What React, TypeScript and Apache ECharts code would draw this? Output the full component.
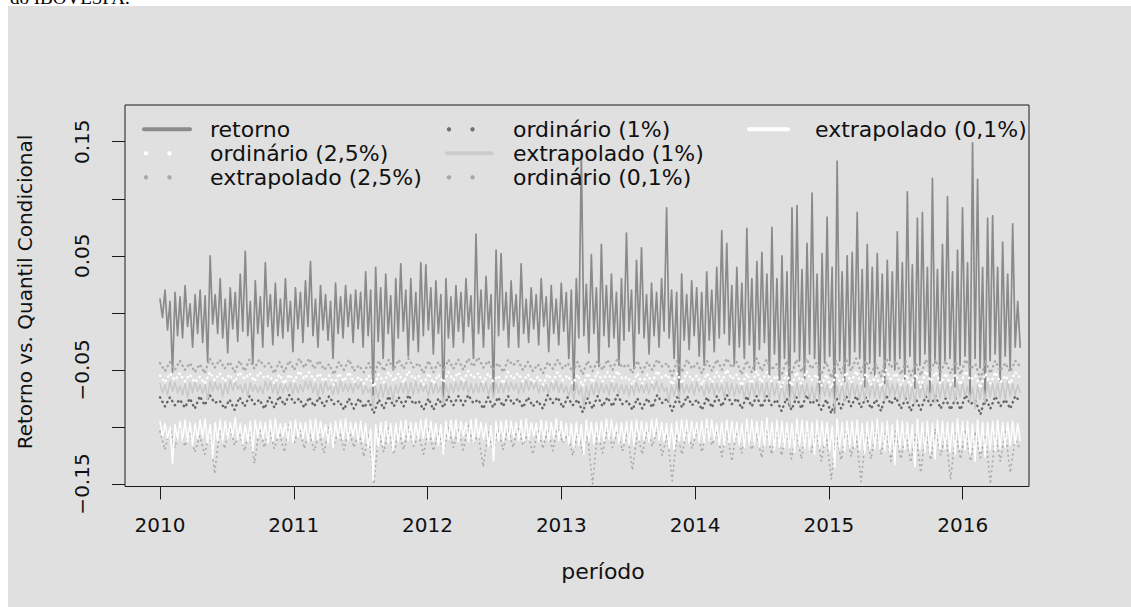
import React, { useEffect, useRef } from "react";
import * as echarts from "echarts";

// ---- data ----
const X_START = 2010.0;
const X_END = 2016.43;
const X_TICKS = [2010, 2011, 2012, 2013, 2014, 2015, 2016];
const Y_TICKS = [-0.15, -0.1, -0.05, 0, 0.05, 0.1, 0.15];
const Y_LABEL_VALUES = [-0.15, -0.05, 0.05, 0.15];
const Y_LABELS = ["\u22120.15", "\u22120.05", "0.05", "0.15"];
const SERIES_NAMES = [
  "retorno",
  "ordinário (2,5%)",
  "extrapolado (2,5%)",
  "ordinário (1%)",
  "extrapolado (1%)",
  "ordinário (0,1%)",
  "extrapolado (0,1%)",
];
const X_TITLE = "período";
const Y_TITLE = "Retorno vs. Quantil Condicional";
const TOP_TEXT = "do IBOVESPA.";

const RETORNO = [
  0.012, -0.004, 0.020, -0.015, 0.010, -0.052, 0.018, -0.020, 0.014, -0.022,
  0.024, -0.012, 0.008, -0.030, 0.016, -0.018, 0.020, -0.026, 0.015, -0.043,
  0.050, -0.010, 0.016, -0.018, 0.030, -0.022, 0.012, -0.035, 0.022, -0.014,
  0.018, -0.025, 0.034, -0.016, 0.054, -0.020, 0.010, -0.045, 0.028, -0.018,
  0.014, -0.030, 0.044, -0.012, 0.016, -0.028, 0.026, -0.020, 0.012, -0.022,
  0.030, -0.016, 0.010, -0.034, 0.022, -0.014, 0.018, -0.026, 0.028, -0.012,
  0.045, -0.020, 0.012, -0.030, 0.024, -0.015, 0.016, -0.024, 0.010, -0.040,
  0.026, -0.018, 0.014, -0.022, 0.024, -0.012, 0.016, -0.026, 0.020, -0.014,
  0.018, -0.030, 0.036, -0.020, 0.020, -0.072, 0.040, -0.025, 0.022, -0.040,
  0.034, -0.018, 0.015, -0.050, 0.030, -0.022, 0.043, -0.016, 0.020, -0.038,
  0.030, -0.024, 0.018, -0.034, 0.044, -0.020, 0.042, -0.015, 0.022, -0.036,
  0.028, -0.018, 0.016, -0.078, 0.030, -0.022, 0.014, -0.030, 0.024, -0.016,
  0.018, -0.026, 0.030, -0.012, 0.015, -0.040, 0.069, -0.018, 0.020, -0.030,
  0.032, -0.014, 0.016, -0.072, 0.055, -0.020, 0.052, -0.015, 0.018, -0.030,
  0.028, -0.012, 0.016, -0.030, 0.043, -0.018, 0.012, -0.026, 0.022, -0.014,
  0.016, -0.028, 0.030, -0.012, 0.014, -0.034, 0.024, -0.018, 0.012, -0.028,
  0.026, -0.016, 0.018, -0.040, 0.020, -0.068, 0.030, -0.022, 0.138, -0.020,
  0.025, -0.035, 0.051, -0.018, 0.022, -0.047, 0.060, -0.020, 0.024, -0.030,
  0.034, -0.022, 0.018, -0.046, 0.030, -0.024, 0.070, -0.016, 0.020, -0.049,
  0.046, -0.018, 0.057, -0.022, 0.016, -0.036, 0.026, -0.020, 0.018, -0.030,
  0.030, -0.016, 0.092, -0.022, 0.020, -0.040, 0.018, -0.075, 0.034, -0.024,
  0.016, -0.032, 0.028, -0.020, 0.022, -0.038, 0.018, -0.046, 0.036, -0.024,
  0.020, -0.034, 0.040, -0.022, 0.072, -0.018, 0.061, -0.028, 0.024, -0.045,
  0.040, -0.030, 0.026, -0.040, 0.074, -0.028, 0.030, -0.050, 0.045, -0.032,
  0.053, -0.026, 0.034, -0.055, 0.075, -0.036, 0.030, -0.060, 0.050, -0.040,
  0.036, -0.082, 0.092, -0.034, 0.094, -0.042, 0.038, -0.058, 0.061, -0.036,
  0.105, -0.040, 0.034, -0.075, 0.052, -0.044, 0.084, -0.038, 0.040, -0.088,
  0.133, -0.042, 0.036, -0.060, 0.050, -0.046, 0.053, -0.034, 0.088, -0.040,
  0.038, -0.065, 0.060, -0.044, 0.040, -0.055, 0.052, -0.038, 0.034, -0.062,
  0.046, -0.042, 0.036, -0.050, 0.071, -0.040, 0.044, -0.058, 0.106, -0.038,
  0.042, -0.066, 0.083, -0.046, 0.088, -0.036, 0.040, -0.070, 0.118, -0.044,
  0.038, -0.060, 0.060, -0.042, 0.102, -0.040, 0.036, -0.065, 0.055, -0.046,
  0.092, -0.038, 0.044, -0.072, 0.149, -0.040, 0.117, -0.048, 0.040, -0.080,
  0.083, -0.042, 0.085, -0.036, 0.040, -0.060, 0.062, -0.038, 0.034, -0.050,
  0.078, -0.030, 0.010, -0.030,
];

const EXTRAP_1 = [
  -0.062, -0.070, -0.063, -0.072, -0.060, -0.069, -0.061, -0.070, -0.064, -0.072,
  -0.062, -0.074, -0.061, -0.070, -0.060, -0.069, -0.063, -0.071, -0.063, -0.076,
  -0.060, -0.069, -0.061, -0.068, -0.062, -0.073, -0.062, -0.071, -0.059, -0.068,
  -0.060, -0.067, -0.063, -0.070, -0.062, -0.073, -0.061, -0.069, -0.063, -0.070,
  -0.064, -0.071, -0.060, -0.068, -0.060, -0.070, -0.061, -0.072, -0.062, -0.070,
  -0.063, -0.069, -0.061, -0.071, -0.062, -0.070, -0.063, -0.069, -0.060, -0.067,
  -0.060, -0.070, -0.062, -0.073, -0.062, -0.071, -0.060, -0.068, -0.064, -0.072,
  -0.061, -0.071, -0.060, -0.069, -0.062, -0.069, -0.062, -0.070, -0.061, -0.067,
  -0.061, -0.071, -0.064, -0.070, -0.066, -0.084, -0.064, -0.075, -0.063, -0.074,
  -0.062, -0.072, -0.064, -0.077, -0.063, -0.071, -0.062, -0.070, -0.061, -0.072,
  -0.061, -0.072, -0.060, -0.070, -0.062, -0.069, -0.063, -0.073, -0.061, -0.071,
  -0.062, -0.070, -0.064, -0.080, -0.063, -0.071, -0.062, -0.070, -0.061, -0.069,
  -0.060, -0.068, -0.060, -0.071, -0.062, -0.071, -0.062, -0.070, -0.061, -0.069,
  -0.061, -0.072, -0.063, -0.075, -0.062, -0.070, -0.061, -0.070, -0.060, -0.069,
  -0.061, -0.068, -0.062, -0.071, -0.062, -0.070, -0.059, -0.068, -0.060, -0.067,
  -0.061, -0.070, -0.062, -0.069, -0.063, -0.071, -0.061, -0.068, -0.060, -0.070,
  -0.062, -0.070, -0.064, -0.073, -0.064, -0.076, -0.062, -0.072, -0.065, -0.082,
  -0.064, -0.074, -0.063, -0.072, -0.061, -0.071, -0.062, -0.070, -0.063, -0.072,
  -0.061, -0.069, -0.062, -0.071, -0.063, -0.071, -0.063, -0.073, -0.062, -0.072,
  -0.061, -0.070, -0.063, -0.070, -0.062, -0.071, -0.061, -0.068, -0.060, -0.070,
  -0.062, -0.069, -0.065, -0.078, -0.063, -0.073, -0.062, -0.074, -0.061, -0.071,
  -0.063, -0.070, -0.062, -0.072, -0.061, -0.069, -0.064, -0.073, -0.062, -0.071,
  -0.061, -0.072, -0.062, -0.070, -0.063, -0.074, -0.061, -0.072, -0.062, -0.073,
  -0.063, -0.071, -0.063, -0.075, -0.062, -0.074, -0.061, -0.073, -0.060, -0.072,
  -0.062, -0.074, -0.061, -0.075, -0.060, -0.073, -0.062, -0.076, -0.062, -0.075,
  -0.063, -0.080, -0.063, -0.076, -0.061, -0.074, -0.061, -0.074, -0.062, -0.076,
  -0.064, -0.077, -0.062, -0.078, -0.060, -0.073, -0.063, -0.074, -0.064, -0.082,
  -0.064, -0.076, -0.062, -0.078, -0.061, -0.075, -0.061, -0.073, -0.063, -0.076,
  -0.062, -0.077, -0.060, -0.074, -0.061, -0.074, -0.062, -0.075, -0.063, -0.076,
  -0.059, -0.073, -0.062, -0.073, -0.062, -0.076, -0.063, -0.077, -0.063, -0.078,
  -0.064, -0.080, -0.061, -0.074, -0.062, -0.075, -0.064, -0.077, -0.063, -0.079,
  -0.062, -0.075, -0.061, -0.074, -0.061, -0.076, -0.062, -0.078, -0.062, -0.074,
  -0.061, -0.073, -0.064, -0.078, -0.065, -0.084, -0.063, -0.076, -0.062, -0.078,
  -0.061, -0.074, -0.062, -0.074, -0.062, -0.075, -0.061, -0.076, -0.060, -0.073,
  -0.062, -0.072, -0.063, -0.070,
];

const EXTRAP_01 = [
  -0.095, -0.108, -0.097, -0.110, -0.100, -0.132, -0.098, -0.111, -0.095, -0.112,
  -0.094, -0.113, -0.096, -0.116, -0.097, -0.110, -0.094, -0.109, -0.093, -0.114,
  -0.098, -0.127, -0.096, -0.112, -0.094, -0.113, -0.095, -0.110, -0.096, -0.108,
  -0.092, -0.111, -0.097, -0.115, -0.098, -0.113, -0.095, -0.121, -0.094, -0.109,
  -0.095, -0.110, -0.096, -0.114, -0.094, -0.112, -0.093, -0.110, -0.097, -0.108,
  -0.097, -0.112, -0.095, -0.114, -0.094, -0.109, -0.096, -0.110, -0.096, -0.113,
  -0.094, -0.112, -0.093, -0.111, -0.095, -0.109, -0.098, -0.114, -0.097, -0.118,
  -0.095, -0.110, -0.094, -0.111, -0.093, -0.112, -0.096, -0.108, -0.096, -0.113,
  -0.095, -0.113, -0.097, -0.118, -0.102, -0.147, -0.098, -0.117, -0.096, -0.116,
  -0.095, -0.114, -0.097, -0.121, -0.097, -0.113, -0.095, -0.112, -0.094, -0.112,
  -0.096, -0.114, -0.096, -0.111, -0.094, -0.110, -0.093, -0.112, -0.095, -0.112,
  -0.097, -0.116, -0.098, -0.124, -0.095, -0.111, -0.094, -0.110, -0.094, -0.113,
  -0.095, -0.108, -0.096, -0.113, -0.094, -0.114, -0.093, -0.110, -0.096, -0.111,
  -0.097, -0.117, -0.099, -0.130, -0.095, -0.112, -0.095, -0.112, -0.094, -0.111,
  -0.095, -0.109, -0.096, -0.112, -0.094, -0.113, -0.093, -0.111, -0.096, -0.108,
  -0.097, -0.113, -0.094, -0.111, -0.095, -0.112, -0.096, -0.110, -0.093, -0.112,
  -0.095, -0.112, -0.097, -0.115, -0.097, -0.118, -0.096, -0.116, -0.098, -0.124,
  -0.094, -0.112, -0.096, -0.115, -0.096, -0.113, -0.095, -0.112, -0.093, -0.111,
  -0.094, -0.110, -0.097, -0.114, -0.096, -0.114, -0.095, -0.115, -0.095, -0.116,
  -0.094, -0.112, -0.095, -0.111, -0.096, -0.113, -0.094, -0.109, -0.093, -0.112,
  -0.096, -0.113, -0.097, -0.118, -0.097, -0.120, -0.095, -0.113, -0.094, -0.112,
  -0.094, -0.114, -0.095, -0.110, -0.096, -0.113, -0.095, -0.114, -0.093, -0.112,
  -0.094, -0.111, -0.097, -0.115, -0.096, -0.116, -0.094, -0.114, -0.095, -0.113,
  -0.096, -0.116, -0.097, -0.118, -0.093, -0.115, -0.094, -0.115, -0.095, -0.117,
  -0.095, -0.117, -0.092, -0.116, -0.096, -0.120, -0.094, -0.118, -0.095, -0.118,
  -0.096, -0.119, -0.097, -0.122, -0.093, -0.117, -0.094, -0.119, -0.095, -0.120,
  -0.096, -0.124, -0.094, -0.118, -0.095, -0.117, -0.096, -0.121, -0.099, -0.135,
  -0.093, -0.119, -0.096, -0.121, -0.095, -0.118, -0.095, -0.118, -0.094, -0.120,
  -0.097, -0.123, -0.096, -0.119, -0.095, -0.119, -0.093, -0.120, -0.096, -0.121,
  -0.095, -0.122, -0.098, -0.133, -0.094, -0.119, -0.095, -0.120, -0.096, -0.121,
  -0.098, -0.135, -0.093, -0.120, -0.096, -0.122, -0.095, -0.123, -0.097, -0.128,
  -0.094, -0.120, -0.095, -0.119, -0.096, -0.122, -0.096, -0.124, -0.093, -0.119,
  -0.095, -0.120, -0.095, -0.124, -0.097, -0.130, -0.094, -0.121, -0.096, -0.126,
  -0.096, -0.120, -0.095, -0.121, -0.094, -0.119, -0.096, -0.118, -0.096, -0.116,
  -0.095, -0.115, -0.097, -0.112,
];

const EXTRAP_25 = [
  -0.044, -0.051, -0.043, -0.050, -0.042, -0.050, -0.044, -0.052, -0.045, -0.053,
  -0.040, -0.048, -0.041, -0.049, -0.043, -0.052, -0.042, -0.051, -0.041, -0.049,
  -0.041, -0.047, -0.044, -0.053, -0.043, -0.052, -0.042, -0.050, -0.040, -0.048,
  -0.040, -0.049, -0.042, -0.050, -0.045, -0.054, -0.043, -0.050, -0.041, -0.051,
  -0.046, -0.052, -0.044, -0.056, -0.042, -0.051, -0.041, -0.050, -0.041, -0.049,
  -0.040, -0.048, -0.044, -0.053, -0.042, -0.052, -0.043, -0.051, -0.041, -0.049,
  -0.041, -0.050, -0.040, -0.047, -0.039, -0.048, -0.042, -0.050, -0.044, -0.052,
  -0.041, -0.046, -0.042, -0.050, -0.043, -0.051, -0.045, -0.053, -0.043, -0.049,
  -0.041, -0.049, -0.044, -0.052, -0.043, -0.054, -0.042, -0.051, -0.042, -0.050,
  -0.041, -0.050, -0.040, -0.048, -0.045, -0.053, -0.042, -0.052, -0.043, -0.050,
  -0.041, -0.047, -0.044, -0.055, -0.042, -0.052, -0.041, -0.049, -0.044, -0.053,
  -0.042, -0.051, -0.041, -0.050, -0.040, -0.048, -0.043, -0.054, -0.042, -0.052,
  -0.040, -0.051, -0.041, -0.050, -0.045, -0.055, -0.042, -0.054, -0.041, -0.052,
  -0.040, -0.049, -0.044, -0.054, -0.043, -0.057, -0.042, -0.053, -0.041, -0.051,
  -0.040, -0.052, -0.042, -0.053, -0.045, -0.056, -0.040, -0.048, -0.042, -0.054,
  -0.043, -0.055, -0.044, -0.055, -0.041, -0.050, -0.041, -0.052, -0.042, -0.053,
  -0.043, -0.054, -0.041, -0.049, -0.045, -0.058, -0.042, -0.053, -0.042, -0.051,
  -0.044, -0.052, -0.042, -0.047,
];

const ORD_25 = [
  -0.055, -0.061, -0.053, -0.059, -0.053, -0.060, -0.054, -0.061, -0.056, -0.062,
  -0.052, -0.059, -0.053, -0.060, -0.054, -0.061, -0.052, -0.058, -0.053, -0.060,
  -0.052, -0.057, -0.055, -0.062, -0.054, -0.062, -0.054, -0.060, -0.051, -0.058,
  -0.052, -0.059, -0.053, -0.060, -0.055, -0.063, -0.053, -0.060, -0.052, -0.061,
  -0.056, -0.062, -0.055, -0.065, -0.054, -0.061, -0.052, -0.060, -0.053, -0.061,
  -0.051, -0.058, -0.055, -0.063, -0.053, -0.062, -0.054, -0.061, -0.052, -0.059,
  -0.052, -0.060, -0.051, -0.057, -0.053, -0.061, -0.053, -0.060, -0.055, -0.062,
  -0.052, -0.058, -0.053, -0.060, -0.054, -0.061, -0.056, -0.063, -0.054, -0.060,
  -0.052, -0.059, -0.055, -0.062, -0.054, -0.064, -0.053, -0.061, -0.052, -0.060,
  -0.052, -0.060, -0.051, -0.058, -0.056, -0.063, -0.053, -0.062, -0.054, -0.061,
  -0.051, -0.057, -0.054, -0.063, -0.053, -0.062, -0.052, -0.059, -0.055, -0.063,
  -0.053, -0.061, -0.052, -0.060, -0.050, -0.058, -0.054, -0.064, -0.053, -0.062,
  -0.051, -0.061, -0.052, -0.060, -0.055, -0.065, -0.053, -0.064, -0.052, -0.062,
  -0.051, -0.059, -0.054, -0.064, -0.054, -0.066, -0.053, -0.063, -0.052, -0.061,
  -0.051, -0.062, -0.053, -0.063, -0.055, -0.065, -0.050, -0.058, -0.053, -0.063,
  -0.054, -0.064, -0.054, -0.065, -0.051, -0.060, -0.052, -0.062, -0.053, -0.063,
  -0.054, -0.063, -0.051, -0.059, -0.055, -0.066, -0.053, -0.062, -0.052, -0.061,
  -0.055, -0.062, -0.052, -0.057,
];

const ORD_1 = [
  -0.074, -0.082, -0.074, -0.081, -0.076, -0.083, -0.075, -0.084, -0.073, -0.081,
  -0.072, -0.079, -0.077, -0.084, -0.076, -0.085, -0.074, -0.082, -0.073, -0.080,
  -0.076, -0.084, -0.074, -0.083, -0.073, -0.081, -0.072, -0.079, -0.075, -0.083,
  -0.074, -0.082, -0.074, -0.082, -0.073, -0.080, -0.077, -0.085, -0.075, -0.084,
  -0.075, -0.083, -0.077, -0.088, -0.076, -0.084, -0.073, -0.082, -0.074, -0.082,
  -0.072, -0.080, -0.077, -0.085, -0.075, -0.085, -0.075, -0.083, -0.073, -0.081,
  -0.073, -0.081, -0.072, -0.079, -0.076, -0.084, -0.074, -0.083, -0.074, -0.082,
  -0.073, -0.080, -0.075, -0.083, -0.074, -0.082, -0.077, -0.084, -0.072, -0.079,
  -0.074, -0.083, -0.074, -0.081, -0.076, -0.087, -0.075, -0.084, -0.073, -0.082,
  -0.074, -0.082, -0.072, -0.080, -0.077, -0.085, -0.075, -0.084, -0.075, -0.083,
  -0.072, -0.079, -0.075, -0.086, -0.074, -0.083, -0.073, -0.081, -0.076, -0.085,
  -0.074, -0.083, -0.073, -0.082, -0.072, -0.080, -0.075, -0.084, -0.073, -0.082,
  -0.073, -0.083, -0.073, -0.081, -0.076, -0.086, -0.075, -0.085, -0.074, -0.084,
  -0.072, -0.080, -0.076, -0.085, -0.076, -0.088, -0.074, -0.084, -0.073, -0.082,
  -0.073, -0.083, -0.074, -0.084, -0.076, -0.086, -0.072, -0.080, -0.074, -0.084,
  -0.075, -0.086, -0.075, -0.085, -0.073, -0.081, -0.073, -0.084, -0.075, -0.085,
  -0.075, -0.085, -0.072, -0.080, -0.077, -0.089, -0.074, -0.084, -0.073, -0.082,
  -0.076, -0.084, -0.073, -0.078,
];

const ORD_01 = [
  -0.104, -0.120, -0.101, -0.118, -0.100, -0.117, -0.104, -0.122, -0.108, -0.124,
  -0.105, -0.141, -0.102, -0.119, -0.099, -0.116, -0.106, -0.121, -0.103, -0.132,
  -0.101, -0.118, -0.102, -0.119, -0.105, -0.122, -0.098, -0.114, -0.100, -0.119,
  -0.104, -0.121, -0.106, -0.123, -0.100, -0.115, -0.102, -0.120, -0.103, -0.118,
  -0.105, -0.126, -0.106, -0.150, -0.104, -0.122, -0.101, -0.124, -0.103, -0.120,
  -0.100, -0.117, -0.106, -0.124, -0.102, -0.121, -0.104, -0.122, -0.100, -0.118,
  -0.102, -0.120, -0.099, -0.115, -0.106, -0.135, -0.104, -0.123, -0.101, -0.120,
  -0.101, -0.118, -0.100, -0.116, -0.105, -0.124, -0.102, -0.119, -0.102, -0.121,
  -0.099, -0.114, -0.106, -0.125, -0.105, -0.122, -0.108, -0.150, -0.104, -0.123,
  -0.101, -0.118, -0.103, -0.121, -0.104, -0.138, -0.105, -0.124, -0.100, -0.117,
  -0.102, -0.125, -0.106, -0.147, -0.106, -0.124, -0.101, -0.119, -0.103, -0.122,
  -0.100, -0.116, -0.105, -0.126, -0.103, -0.130, -0.102, -0.123, -0.101, -0.120,
  -0.106, -0.127, -0.102, -0.124, -0.103, -0.125, -0.104, -0.128, -0.105, -0.128,
  -0.101, -0.122, -0.104, -0.130, -0.106, -0.146, -0.106, -0.129, -0.102, -0.126,
  -0.107, -0.148, -0.105, -0.128, -0.101, -0.124, -0.103, -0.130, -0.104, -0.128,
  -0.106, -0.131, -0.105, -0.140, -0.104, -0.129, -0.102, -0.125, -0.106, -0.146,
  -0.105, -0.128, -0.103, -0.130, -0.104, -0.127, -0.107, -0.150, -0.106, -0.130,
  -0.104, -0.140, -0.110, -0.120,
];

// ---- helpers ----
function toPairs(vals: number[]): number[][] {
  const n = vals.length;
  return vals.map((v, i) => [X_START + ((X_END - X_START) * i) / (n - 1), v]);
}

const FONT = "DejaVu Sans";
const DOT_DASH = [0.5, 4.5];

export default function App() {
  const ref = useRef<HTMLDivElement>(null);

  useEffect(() => {
    if (!ref.current) return;
    const chart = echarts.init(ref.current, undefined, { renderer: "svg" });

    const solid = (name: string, data: number[], color: string, width: number, z: number) => ({
      type: "line",
      name,
      data: toPairs(data),
      showSymbol: false,
      symbol: "none",
      silent: true,
      z,
      lineStyle: { color, width, cap: "round", join: "round" },
      emphasis: { disabled: true },
    });
    const dotted = (name: string, data: number[], color: string, width: number, z: number) => ({
      type: "line",
      name,
      data: toPairs(data),
      showSymbol: false,
      symbol: "none",
      silent: true,
      z,
      lineStyle: { color, width, type: DOT_DASH, cap: "round", join: "round" },
      emphasis: { disabled: true },
    });

    // legend layout (drawn as graphic elements, mimicking R's legend)
    const colSym = [143, 446, 748];
    const colSymEnd = [191, 493, 789];
    const colText = [210, 513, 815];
    const rowY = [129.3, 153.3, 177.3];
    const legendItems = [
      { kind: "line", color: "#8c8c8c", col: 0, row: 0 },
      { kind: "dots", color: "#ffffff", col: 0, row: 1 },
      { kind: "dots", color: "#a8a8a8", col: 0, row: 2 },
      { kind: "dots", color: "#707070", col: 1, row: 0 },
      { kind: "line", color: "#cccccc", col: 1, row: 1 },
      { kind: "dots", color: "#a8a8a8", col: 1, row: 2 },
      { kind: "line", color: "#ffffff", col: 2, row: 0 },
    ];
    const legendGraphics: any[] = [];
    legendItems.forEach((it, k) => {
      const y = rowY[it.row];
      const x0 = colSym[it.col];
      const x1 = colSymEnd[it.col];
      if (it.kind === "line") {
        legendGraphics.push({
          type: "line",
          z: 50,
          shape: { x1: x0 + 1, y1: y, x2: x1 - 1, y2: y },
          style: { stroke: it.color, lineWidth: 4, lineCap: "round" },
        });
      } else {
        [x0 + 3, x0 + 26.5].forEach((cx) =>
          legendGraphics.push({
            type: "circle",
            z: 50,
            shape: { cx, cy: y, r: 2.2 },
            style: { fill: it.color },
          })
        );
      }
      legendGraphics.push({
        type: "text",
        z: 50,
        x: colText[it.col],
        y,
        style: {
          text: SERIES_NAMES[k],
          fontSize: 22,
          fontFamily: FONT,
          fill: "#111111",
          align: "left",
          verticalAlign: "middle",
        },
      });
    });

    const option: any = {
      animation: false,
      backgroundColor: "#e0e0e0",
      grid: {
        left: 125,
        top: 105,
        width: 904,
        height: 381.5,
        show: true,
        borderColor: "#1a1a1a",
        borderWidth: 1,
        backgroundColor: "transparent",
        containLabel: false,
      },
      xAxis: {
        type: "value",
        min: 2009.7384,
        max: 2016.4957,
        axisLine: { show: false, onZero: false },
        splitLine: { show: false },
        axisTick: {
          show: true,
          inside: false,
          length: 13,
          customValues: X_TICKS,
          lineStyle: { color: "#1a1a1a", width: 1 },
        },
        axisLabel: {
          show: true,
          customValues: X_TICKS,
          margin: 28,
          fontSize: 20,
          fontFamily: FONT,
          color: "#111111",
          formatter: (v: number) => String(Math.round(v)),
        },
      },
      yAxis: {
        type: "value",
        min: -0.1522,
        max: 0.1822,
        axisLine: { show: false, onZero: false },
        splitLine: { show: false },
        axisTick: {
          show: true,
          inside: false,
          length: 13,
          customValues: Y_TICKS,
          lineStyle: { color: "#1a1a1a", width: 1 },
        },
        axisLabel: {
          show: true,
          customValues: Y_LABEL_VALUES,
          rotate: 90,
          margin: 33,
          fontSize: 20,
          fontFamily: FONT,
          color: "#111111",
          formatter: (v: number) => {
            const idx = Y_LABEL_VALUES.findIndex((t) => Math.abs(t - v) < 1e-9);
            return idx >= 0 ? Y_LABELS[idx] : "";
          },
        },
      },
      series: [
        solid(SERIES_NAMES[0], RETORNO, "#8a8a8a", 1.7, 2),
        dotted(SERIES_NAMES[3], ORD_1, "#666666", 2.4, 3),
        dotted(SERIES_NAMES[2], EXTRAP_25, "#aaaaaa", 2.4, 3),
        solid(SERIES_NAMES[4], EXTRAP_1, "#c8c8c8", 1.5, 3),
        dotted(SERIES_NAMES[1], ORD_25, "#ffffff", 2.4, 4),
        dotted(SERIES_NAMES[5], ORD_01, "#aaaaaa", 1.8, 4),
        solid(SERIES_NAMES[6], EXTRAP_01, "#ffffff", 1.5, 5),
      ],
      graphic: [
        { type: "rect", z: 0, shape: { x: 0, y: 0, width: 1131, height: 6 }, style: { fill: "#ffffff" } },
        { type: "rect", z: 0, shape: { x: 0, y: 0, width: 8, height: 607 }, style: { fill: "#ffffff" } },
        {
          type: "text",
          z: 1,
          x: 10,
          y: -3,
          style: {
            text: TOP_TEXT,
            fontSize: 19,
            fontFamily: "Liberation Serif",
            fill: "#000000",
            align: "left",
            verticalAlign: "middle",
          },
        },
        {
          type: "text",
          z: 50,
          x: 25,
          y: 292,
          rotation: Math.PI / 2,
          style: {
            text: Y_TITLE,
            fontSize: 20,
            fontFamily: FONT,
            fill: "#111111",
            align: "center",
            verticalAlign: "middle",
          },
        },
        {
          type: "text",
          z: 50,
          x: 603,
          y: 571,
          style: {
            text: X_TITLE,
            fontSize: 22,
            fontFamily: FONT,
            fill: "#111111",
            align: "center",
            verticalAlign: "middle",
          },
        },
        ...legendGraphics,
      ],
    };

    chart.setOption(option);
    return () => chart.dispose();
  }, []);

  return (
    <div
      ref={ref}
      style={{ position: "fixed", left: 0, top: 0, width: 1131, height: 607 }}
    />
  );
}
